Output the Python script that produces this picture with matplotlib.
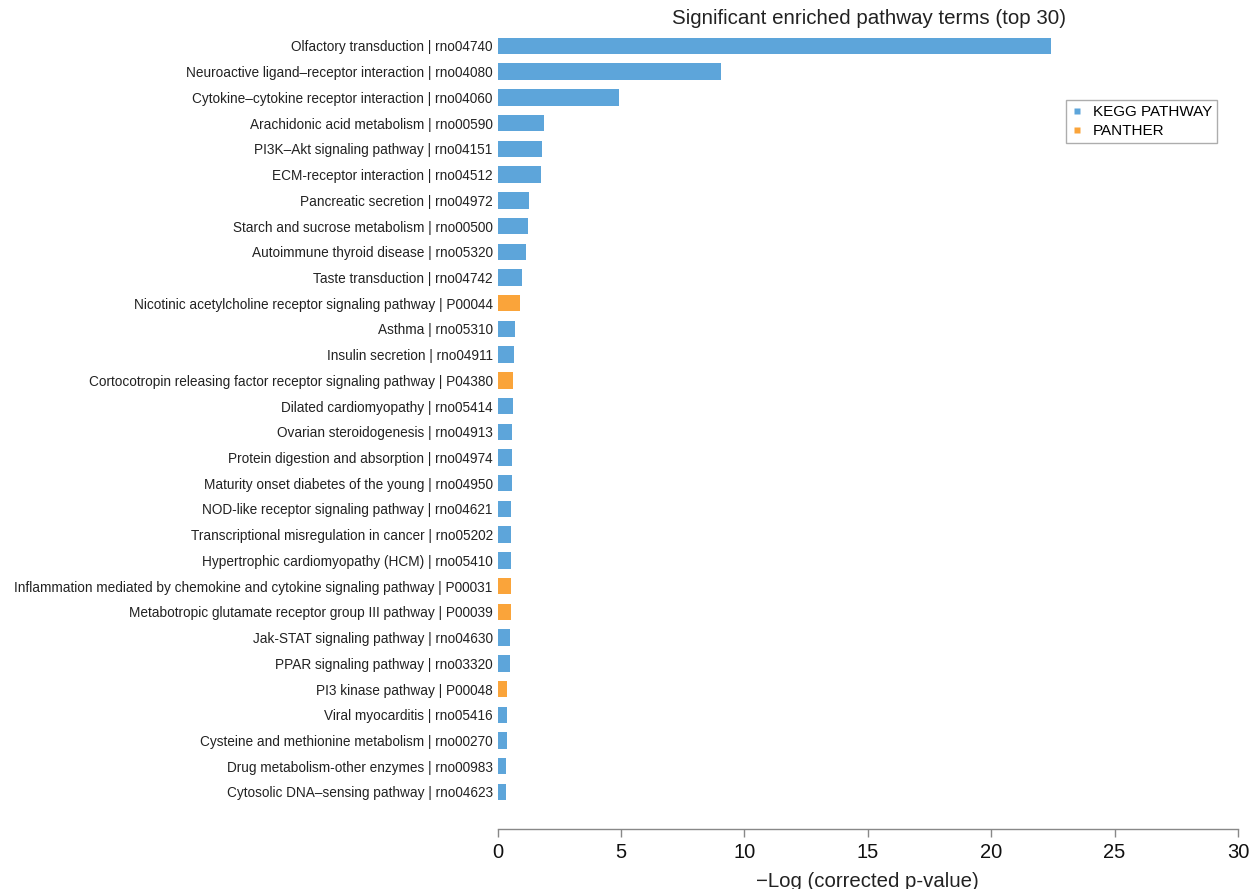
import matplotlib
matplotlib.use("Agg")
import matplotlib.pyplot as plt
from matplotlib.lines import Line2D

plt.rcParams['font.family'] = ['Liberation Sans', 'DejaVu Sans']

terms = [
    "Olfactory transduction | rno04740",
    "Neuroactive ligand\u2013receptor interaction | rno04080",
    "Cytokine\u2013cytokine receptor interaction | rno04060",
    "Arachidonic acid metabolism | rno00590",
    "PI3K\u2013Akt signaling pathway | rno04151",
    "ECM-receptor interaction | rno04512",
    "Pancreatic secretion | rno04972",
    "Starch and sucrose metabolism | rno00500",
    "Autoimmune thyroid disease | rno05320",
    "Taste transduction | rno04742",
    "Nicotinic acetylcholine receptor signaling pathway | P00044",
    "Asthma | rno05310",
    "Insulin secretion | rno04911",
    "Cortocotropin releasing factor receptor signaling pathway | P04380",
    "Dilated cardiomyopathy | rno05414",
    "Ovarian steroidogenesis | rno04913",
    "Protein digestion and absorption | rno04974",
    "Maturity onset diabetes of the young | rno04950",
    "NOD-like receptor signaling pathway | rno04621",
    "Transcriptional misregulation in cancer | rno05202",
    "Hypertrophic cardiomyopathy (HCM) | rno05410",
    "Inflammation mediated by chemokine and cytokine signaling pathway | P00031",
    "Metabotropic glutamate receptor group III pathway | P00039",
    "Jak-STAT signaling pathway | rno04630",
    "PPAR signaling pathway | rno03320",
    "PI3 kinase pathway | P00048",
    "Viral myocarditis | rno05416",
    "Cysteine and methionine metabolism | rno00270",
    "Drug metabolism-other enzymes | rno00983",
    "Cytosolic DNA\u2013sensing pathway | rno04623",
]

neg_log_p = [
    22.44, 9.06, 4.92, 1.88, 1.80, 1.77, 1.29, 1.23, 1.15, 1.00,
    0.93, 0.71, 0.68, 0.64, 0.63, 0.60, 0.59, 0.57, 0.55, 0.54,
    0.53, 0.53, 0.53, 0.50, 0.49, 0.39, 0.39, 0.37, 0.36, 0.36,
]

source = [
    "KEGG", "KEGG", "KEGG", "KEGG", "KEGG", "KEGG", "KEGG", "KEGG", "KEGG", "KEGG",
    "PANTHER", "KEGG", "KEGG", "PANTHER", "KEGG", "KEGG", "KEGG", "KEGG", "KEGG", "KEGG",
    "KEGG", "PANTHER", "PANTHER", "KEGG", "KEGG", "PANTHER", "KEGG", "KEGG", "KEGG", "KEGG",
]

legend_labels = ["KEGG PATHWAY", "PANTHER"]
palette = {"KEGG": "#5DA5DA", "PANTHER": "#FAA43A"}

fig = plt.figure(figsize=(12.6, 8.89), dpi=100)
ax = fig.add_axes([497.5 / 1260, 1 - 829 / 889, (1238 - 497.5) / 1260, (829 - 30) / 889])

ypos = list(range(len(terms)))
colors = [palette[s] for s in source]
ax.barh(ypos, neg_log_p, height=0.64, color=colors, edgecolor='none')

ax.set_ylim(30.44, -0.62)
ax.set_xlim(0, 30)
ax.set_yticks(ypos)
ax.set_yticklabels(terms, fontsize=9.8, color='#222222')
ax.tick_params(axis='y', length=0, pad=3.5)

ax.set_xticks([0, 5, 10, 15, 20, 25, 30])
ax.tick_params(axis='x', length=6, width=1, color='#888888', labelsize=14.5,
               labelcolor='#111111', pad=4)

for side in ['top', 'right', 'left']:
    ax.spines[side].set_visible(False)
ax.spines['bottom'].set_color('#888888')
ax.spines['bottom'].set_linewidth(1)
ax.spines['bottom'].set_bounds(0, 30)

ax.set_xlabel("\u2212Log (corrected p-value)", fontsize=14.7, color='#222222', labelpad=7)

fig.text((497.5 + 1238) / 2 / 1260 + 0.001, 1 - 18 / 889,
         "Significant enriched pathway terms (top 30)",
         ha='center', va='center', fontsize=14.8, color='#222222')

handles = [Line2D([], [], linestyle='none', marker='s', markersize=5,
                  markerfacecolor=palette[k], markeredgecolor='none')
           for k in ["KEGG", "PANTHER"]]
leg = fig.legend(handles, legend_labels, loc='upper left',
                 bbox_to_anchor=(1066 / 1260, 1 - 100 / 889),
                 fontsize=11, frameon=True, fancybox=False,
                 edgecolor='#999999', borderaxespad=0, handlelength=0.8,
                 handletextpad=0.6, labelspacing=0.3, borderpad=0.35)
leg.get_frame().set_linewidth(1)

fig.savefig("out.png", dpi=100)
